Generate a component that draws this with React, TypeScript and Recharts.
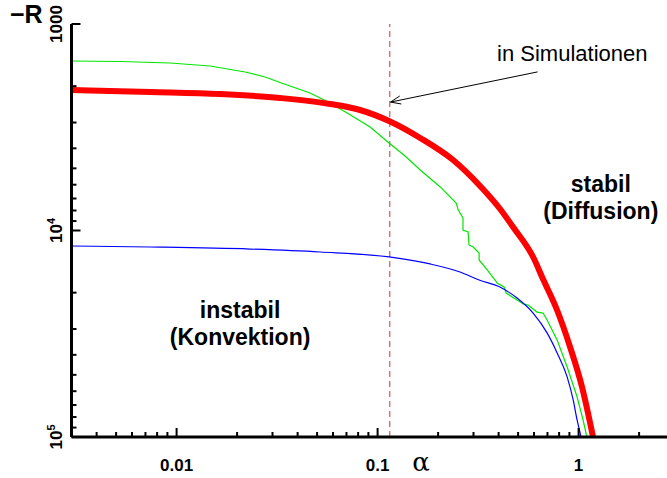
import React from 'react';
import { LineChart, Line, XAxis, YAxis, ReferenceLine, ReferenceDot } from 'recharts';

const FONT = '"Liberation Sans", Arial, Helvetica, sans-serif';

// axis ticks (log decades with minor ticks)
const xTicks = [
  0.003, 0.004, 0.005, 0.006, 0.007, 0.008, 0.009,
  0.01, 0.02, 0.03, 0.04, 0.05, 0.06, 0.07, 0.08, 0.09,
  0.1, 0.2, 0.3, 0.4, 0.5, 0.6, 0.7, 0.8, 0.9,
  1, 2, 3,
];
const xLabeled = [0.01, 0.1, 1];
const xLabelText = ['0.01', '0.1', '1'];

const yTicks = [
  1000, 2000, 3000, 4000, 5000, 6000, 7000, 8000, 9000,
  10000, 20000, 30000, 40000, 50000, 60000, 70000, 80000, 90000,
  100000,
];
const yLabeled = [1000, 10000, 100000];
const yLabelBase = ['1000', '10', '10'];
const yLabelExp = ['', '4', '5'];

// red: stability limit (thick)
const redAlpha = [0.003, 0.00738, 0.01646, 0.0327, 0.0581, 0.0818, 0.114, 0.163, 0.2375, 0.3236, 0.4069, 0.472, 0.594, 0.665, 0.781, 0.907, 1.04, 1.114, 1.18, 1.279];
const redR = [2087, 2133, 2183, 2282, 2440, 2609, 2950, 3565, 4557, 6088, 7870, 9616, 13440, 17180, 24270, 36640, 57260, 76550, 100000, 144500];

// green: simulation
const greenAlpha = [0.003, 0.00524, 0.00929, 0.01468, 0.02194, 0.02756, 0.0327, 0.0461, 0.0581, 0.0706, 0.0918, 0.114, 0.137, 0.163, 0.205, 0.246, 0.252, 0.266, 0.266, 0.282, 0.285, 0.299, 0.32, 0.32, 0.351, 0.384, 0.393, 0.426, 0.436, 0.494, 0.53, 0.561, 0.621, 0.665, 0.697, 0.782, 0.877, 0.983, 1.053, 1.102];
const greenR = [1511, 1519, 1545, 1597, 1708, 1806, 1920, 2159, 2413, 2698, 3155, 3770, 4357, 5093, 6152, 7357, 7956, 8693, 9950, 10170, 11750, 12020, 12850, 13890, 15530, 17370, 17950, 18780, 20080, 21710, 22700, 22960, 24830, 25110, 27120, 33890, 45810, 64030, 82730, 101100];

// blue
const blueAlpha = [0.003, 0.00738, 0.0232, 0.0518, 0.114, 0.1824, 0.257, 0.32, 0.406, 0.494, 0.594, 0.697, 0.782, 0.877, 0.94, 0.983, 1.029];
const blueR = [11890, 12020, 12300, 12710, 13430, 14520, 15890, 17370, 18780, 21230, 25110, 31330, 39170, 51170, 66190, 82730, 100000];

const simAlpha = 0.115;

const toRows = (a: number[], r: number[]) => a.map((v, i) => ({ a: v, r: r[i] }));
const redData = toRows(redAlpha, redR);
const greenData = toRows(greenAlpha, greenR);
const blueData = toRows(blueAlpha, blueR);

const MAJOR = 9;
const MINOR = 5;

const BottomTick = ({ x, y, payload }: any) => {
  const i = xLabeled.indexOf(payload.value);
  return (
    <g>
      <line x1={x} y1={y} x2={x} y2={y - (i >= 0 ? MAJOR : MINOR)} stroke="#000" strokeWidth={2} />
      {i >= 0 && (
        <text x={x} y={y + 34} textAnchor="middle" fontFamily={FONT} fontWeight="bold" fontSize={17} fill="#000">
          {xLabelText[i]}
        </text>
      )}
    </g>
  );
};

const TopTick = ({ x, y, payload }: any) => {
  const major = xLabeled.indexOf(payload.value) >= 0;
  return <line x1={x} y1={y} x2={x} y2={y + (major ? MAJOR : MINOR)} stroke="#000" strokeWidth={2} />;
};

const LeftTick = ({ x, y, payload }: any) => {
  const i = yLabeled.indexOf(payload.value);
  const lx = x - 9.5;
  return (
    <g>
      <line x1={x} y1={y} x2={x + (i >= 0 ? MAJOR : MINOR)} y2={y} stroke="#000" strokeWidth={2} />
      {i >= 0 && (
        <text
          x={lx}
          y={y}
          transform={`rotate(-90, ${lx}, ${y})`}
          textAnchor="middle"
          fontFamily={FONT}
          fontWeight="bold"
          fontSize={17}
          fill="#000"
        >
          {yLabelBase[i]}
          {yLabelExp[i] && (
            <tspan dy={-7} fontSize={11}>
              {yLabelExp[i]}
            </tspan>
          )}
        </text>
      )}
    </g>
  );
};

const RightTick = ({ x, y, payload }: any) => {
  const major = yLabeled.indexOf(payload.value) >= 0;
  return <line x1={x} y1={y} x2={x - (major ? MAJOR : MINOR)} y2={y} stroke="#000" strokeWidth={2} />;
};

const Arrow = ({ x1, y1, x2, y2 }: any) => {
  const ang = Math.atan2(y2 - y1, x2 - x1);
  const L = 11;
  const h1x = x2 - L * Math.cos(ang - 0.38);
  const h1y = y2 - L * Math.sin(ang - 0.38);
  const h2x = x2 - L * Math.cos(ang + 0.38);
  const h2y = y2 - L * Math.sin(ang + 0.38);
  return (
    <g stroke="#000" strokeWidth={1} fill="none">
      <line x1={x1} y1={y1} x2={x2} y2={y2} />
      <polyline points={`${h1x},${h1y} ${x2},${y2} ${h2x},${h2y}`} />
    </g>
  );
};

const twoLines = (l1: string, l2: string) => (p: any) => {
  const { x, y } = p.viewBox;
  return (
    <text textAnchor="middle" fontFamily={FONT} fontWeight="bold" fontSize={23} fill="#000">
      <tspan x={x} y={y}>{l1}</tspan>
      <tspan x={x} y={y + 27}>{l2}</tspan>
    </text>
  );
};

const axisLine = { stroke: '#000', strokeWidth: 3 };

export default function App() {
  return (
    <div style={{ position: 'fixed', left: 0, top: 0, width: 667, height: 478, overflow: 'hidden', background: '#fff' }}>
      <LineChart width={700} height={478} margin={{ top: 24, right: 25.5, bottom: 0, left: 11.5 }}>
        <XAxis
          dataKey="a"
          type="number"
          scale="log"
          domain={[0.003, 3]}
          allowDataOverflow
          ticks={xTicks}
          interval={0}
          height={41}
          tickSize={0}
          tickMargin={0}
          tickLine={false}
          axisLine={axisLine}
          tick={<BottomTick />}
          label={(p: any) => (
            <text x={p.viewBox.x + 349.5} y={p.viewBox.y + 34} textAnchor="middle" fontFamily='"DejaVu Serif", serif' fontSize={26} fill="#000">
              α
            </text>
          )}
        />
        <XAxis
          xAxisId="top"
          orientation="top"
          type="number"
          scale="log"
          domain={[0.003, 3]}
          allowDataOverflow
          ticks={xTicks}
          interval={0}
          height={0}
          tickSize={0}
          tickMargin={0}
          tickLine={false}
          axisLine={axisLine}
          tick={<TopTick />}
        />
        <YAxis
          type="number"
          scale="log"
          domain={[1000, 100000]}
          reversed
          allowDataOverflow
          ticks={yTicks}
          interval={0}
          width={60}
          tickSize={0}
          tickMargin={0}
          tickLine={false}
          axisLine={axisLine}
          tick={<LeftTick />}
          label={(p: any) => (
            <text x={p.viewBox.x - 1.5} y={p.viewBox.y - 1} fontFamily={FONT} fontWeight="bold" fontSize={25} fill="#000">
              −R
            </text>
          )}
        />
        <YAxis
          yAxisId="right"
          orientation="right"
          type="number"
          scale="log"
          domain={[1000, 100000]}
          reversed
          allowDataOverflow
          ticks={yTicks}
          interval={0}
          width={0}
          tickSize={0}
          tickMargin={0}
          tickLine={false}
          axisLine={axisLine}
          tick={<RightTick />}
        />
        <ReferenceLine x={simAlpha} stroke="#c23b3b" strokeWidth={1} strokeDasharray="6 4" />
        <Line data={greenData} dataKey="r" type="linear" stroke="#00e600" strokeWidth={1.2} dot={false} isAnimationActive={false} />
        <Line data={blueData} dataKey="r" type="monotone" stroke="#0000ff" strokeWidth={1.2} dot={false} isAnimationActive={false} />
        <Line data={redData} dataKey="r" type="monotone" stroke="#ff0000" strokeWidth={6} dot={false} isAnimationActive={false} />
        <ReferenceLine
          segment={[{ x: 0.625, y: 1706 }, { x: 0.116, y: 2388 }]}
          shape={<Arrow />}
        />
        <ReferenceDot
          x={0.393}
          y={1511}
          r={0}
          fill="none"
          stroke="none"
          label={(p: any) => (
            <text x={p.viewBox.x} y={p.viewBox.y} fontFamily={FONT} fontSize={22} fill="#000">
              in Simulationen
            </text>
          )}
        />
        <ReferenceDot x={1.29} y={6512} r={0} fill="none" stroke="none" label={twoLines('stabil', '(Diffusion)')} />
        <ReferenceDot x={0.0207} y={26530} r={0} fill="none" stroke="none" label={twoLines('instabil', '(Konvektion)')} />
      </LineChart>
    </div>
  );
}
